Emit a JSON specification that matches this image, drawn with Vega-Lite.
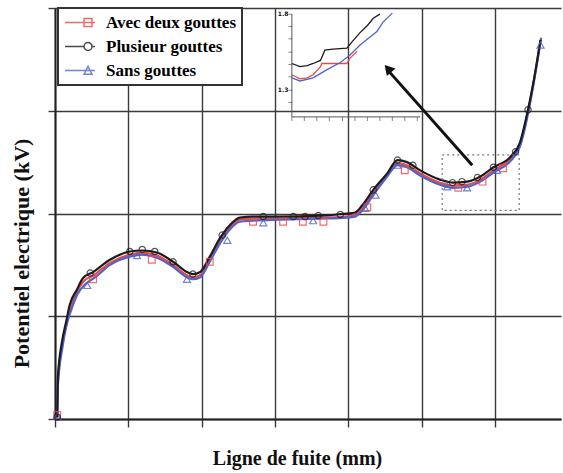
{
  "$schema": "https://vega.github.io/schema/vega-lite/v6.json",
  "width": 506,
  "height": 411,
  "autosize": {"type": "none"},
  "padding": {"left": 55, "top": 8, "right": 2, "bottom": 54},
  "background": "white",
  "view": {"stroke": null},
  "config": {
    "legend": {
      "orient": "none",
      "legendX": 3,
      "legendY": 0,
      "padding": 6,
      "strokeColor": "#333333",
      "fillColor": "white",
      "strokeWidth": 2,
      "labelFont": "Liberation Serif",
      "labelFontSize": 17,
      "labelFontWeight": "bold",
      "labelColor": "#000000",
      "labelOffset": 25,
      "symbolSize": 225,
      "symbolStrokeWidth": 1.5,
      "rowPadding": 6,
      "labelLimit": 300
    },
    "axis": {
      "labels": false,
      "grid": true,
      "gridColor": "#3a3a3a",
      "gridWidth": 1.4,
      "gridOpacity": 1,
      "tickColor": "#3a3a3a",
      "tickWidth": 1.4,
      "domainColor": "#222222",
      "domainWidth": 2,
      "titleFont": "Liberation Serif",
      "titleFontWeight": "bold",
      "titleColor": "#111111"
    }
  },
  "datasets": {
    "curves": [
      {"series": "Avec deux gouttes", "x": 0.03, "y": 0.02},
      {"series": "Avec deux gouttes", "x": 0.04, "y": 0.37},
      {"series": "Avec deux gouttes", "x": 0.10, "y": 0.73},
      {"series": "Avec deux gouttes", "x": 0.15, "y": 0.91},
      {"series": "Avec deux gouttes", "x": 0.21, "y": 1.08},
      {"series": "Avec deux gouttes", "x": 0.30, "y": 1.24},
      {"series": "Avec deux gouttes", "x": 0.39, "y": 1.34},
      {"series": "Avec deux gouttes", "x": 0.53, "y": 1.40},
      {"series": "Avec deux gouttes", "x": 0.75, "y": 1.52},
      {"series": "Avec deux gouttes", "x": 1.02, "y": 1.60},
      {"series": "Avec deux gouttes", "x": 1.19, "y": 1.62},
      {"series": "Avec deux gouttes", "x": 1.39, "y": 1.59},
      {"series": "Avec deux gouttes", "x": 1.61, "y": 1.50},
      {"series": "Avec deux gouttes", "x": 1.80, "y": 1.40},
      {"series": "Avec deux gouttes", "x": 1.88, "y": 1.38},
      {"series": "Avec deux gouttes", "x": 1.98, "y": 1.40},
      {"series": "Avec deux gouttes", "x": 2.11, "y": 1.55},
      {"series": "Avec deux gouttes", "x": 2.25, "y": 1.73},
      {"series": "Avec deux gouttes", "x": 2.39, "y": 1.87},
      {"series": "Avec deux gouttes", "x": 2.52, "y": 1.94},
      {"series": "Avec deux gouttes", "x": 2.70, "y": 1.95},
      {"series": "Avec deux gouttes", "x": 3.07, "y": 1.95},
      {"series": "Avec deux gouttes", "x": 3.62, "y": 1.96},
      {"series": "Avec deux gouttes", "x": 3.98, "y": 1.97},
      {"series": "Avec deux gouttes", "x": 4.09, "y": 1.99},
      {"series": "Avec deux gouttes", "x": 4.19, "y": 2.05},
      {"series": "Avec deux gouttes", "x": 4.34, "y": 2.20},
      {"series": "Avec deux gouttes", "x": 4.53, "y": 2.37},
      {"series": "Avec deux gouttes", "x": 4.67, "y": 2.49},
      {"series": "Avec deux gouttes", "x": 4.80, "y": 2.47},
      {"series": "Avec deux gouttes", "x": 4.98, "y": 2.39},
      {"series": "Avec deux gouttes", "x": 5.25, "y": 2.30},
      {"series": "Avec deux gouttes", "x": 5.43, "y": 2.27},
      {"series": "Avec deux gouttes", "x": 5.62, "y": 2.28},
      {"series": "Avec deux gouttes", "x": 5.80, "y": 2.33},
      {"series": "Avec deux gouttes", "x": 5.98, "y": 2.42},
      {"series": "Avec deux gouttes", "x": 6.21, "y": 2.53},
      {"series": "Avec deux gouttes", "x": 6.34, "y": 2.67},
      {"series": "Avec deux gouttes", "x": 6.45, "y": 2.99},
      {"series": "Avec deux gouttes", "x": 6.53, "y": 3.29},
      {"series": "Avec deux gouttes", "x": 6.62, "y": 3.68},
      {"series": "Sans gouttes", "x": 0.03, "y": 0.01},
      {"series": "Sans gouttes", "x": 0.04, "y": 0.33},
      {"series": "Sans gouttes", "x": 0.10, "y": 0.69},
      {"series": "Sans gouttes", "x": 0.15, "y": 0.89},
      {"series": "Sans gouttes", "x": 0.22, "y": 1.06},
      {"series": "Sans gouttes", "x": 0.31, "y": 1.22},
      {"series": "Sans gouttes", "x": 0.41, "y": 1.31},
      {"series": "Sans gouttes", "x": 0.55, "y": 1.38},
      {"series": "Sans gouttes", "x": 0.75, "y": 1.50},
      {"series": "Sans gouttes", "x": 1.02, "y": 1.58},
      {"series": "Sans gouttes", "x": 1.19, "y": 1.60},
      {"series": "Sans gouttes", "x": 1.39, "y": 1.57},
      {"series": "Sans gouttes", "x": 1.61, "y": 1.48},
      {"series": "Sans gouttes", "x": 1.80, "y": 1.38},
      {"series": "Sans gouttes", "x": 1.88, "y": 1.36},
      {"series": "Sans gouttes", "x": 1.98, "y": 1.38},
      {"series": "Sans gouttes", "x": 2.11, "y": 1.53},
      {"series": "Sans gouttes", "x": 2.25, "y": 1.71},
      {"series": "Sans gouttes", "x": 2.39, "y": 1.85},
      {"series": "Sans gouttes", "x": 2.52, "y": 1.92},
      {"series": "Sans gouttes", "x": 2.70, "y": 1.93},
      {"series": "Sans gouttes", "x": 3.07, "y": 1.94},
      {"series": "Sans gouttes", "x": 3.62, "y": 1.95},
      {"series": "Sans gouttes", "x": 3.98, "y": 1.96},
      {"series": "Sans gouttes", "x": 4.09, "y": 1.97},
      {"series": "Sans gouttes", "x": 4.19, "y": 2.03},
      {"series": "Sans gouttes", "x": 4.34, "y": 2.18},
      {"series": "Sans gouttes", "x": 4.53, "y": 2.36},
      {"series": "Sans gouttes", "x": 4.67, "y": 2.47},
      {"series": "Sans gouttes", "x": 4.80, "y": 2.45},
      {"series": "Sans gouttes", "x": 4.98, "y": 2.37},
      {"series": "Sans gouttes", "x": 5.25, "y": 2.28},
      {"series": "Sans gouttes", "x": 5.43, "y": 2.25},
      {"series": "Sans gouttes", "x": 5.62, "y": 2.26},
      {"series": "Sans gouttes", "x": 5.80, "y": 2.31},
      {"series": "Sans gouttes", "x": 5.98, "y": 2.40},
      {"series": "Sans gouttes", "x": 6.21, "y": 2.51},
      {"series": "Sans gouttes", "x": 6.34, "y": 2.65},
      {"series": "Sans gouttes", "x": 6.45, "y": 2.97},
      {"series": "Sans gouttes", "x": 6.53, "y": 3.28},
      {"series": "Sans gouttes", "x": 6.63, "y": 3.71},
      {"series": "Plusieur gouttes", "x": 0.03, "y": 0.02},
      {"series": "Plusieur gouttes", "x": 0.04, "y": 0.41},
      {"series": "Plusieur gouttes", "x": 0.10, "y": 0.77},
      {"series": "Plusieur gouttes", "x": 0.15, "y": 0.94},
      {"series": "Plusieur gouttes", "x": 0.20, "y": 1.11},
      {"series": "Plusieur gouttes", "x": 0.30, "y": 1.26},
      {"series": "Plusieur gouttes", "x": 0.38, "y": 1.37},
      {"series": "Plusieur gouttes", "x": 0.52, "y": 1.43},
      {"series": "Plusieur gouttes", "x": 0.75, "y": 1.55},
      {"series": "Plusieur gouttes", "x": 1.02, "y": 1.63},
      {"series": "Plusieur gouttes", "x": 1.19, "y": 1.64},
      {"series": "Plusieur gouttes", "x": 1.39, "y": 1.62},
      {"series": "Plusieur gouttes", "x": 1.61, "y": 1.53},
      {"series": "Plusieur gouttes", "x": 1.80, "y": 1.43},
      {"series": "Plusieur gouttes", "x": 1.88, "y": 1.41},
      {"series": "Plusieur gouttes", "x": 1.98, "y": 1.43},
      {"series": "Plusieur gouttes", "x": 2.11, "y": 1.58},
      {"series": "Plusieur gouttes", "x": 2.25, "y": 1.76},
      {"series": "Plusieur gouttes", "x": 2.39, "y": 1.89},
      {"series": "Plusieur gouttes", "x": 2.52, "y": 1.96},
      {"series": "Plusieur gouttes", "x": 2.70, "y": 1.97},
      {"series": "Plusieur gouttes", "x": 3.07, "y": 1.97},
      {"series": "Plusieur gouttes", "x": 3.62, "y": 1.98},
      {"series": "Plusieur gouttes", "x": 3.98, "y": 2.00},
      {"series": "Plusieur gouttes", "x": 4.09, "y": 2.01},
      {"series": "Plusieur gouttes", "x": 4.19, "y": 2.08},
      {"series": "Plusieur gouttes", "x": 4.34, "y": 2.23},
      {"series": "Plusieur gouttes", "x": 4.53, "y": 2.39},
      {"series": "Plusieur gouttes", "x": 4.67, "y": 2.52},
      {"series": "Plusieur gouttes", "x": 4.80, "y": 2.50},
      {"series": "Plusieur gouttes", "x": 4.98, "y": 2.42},
      {"series": "Plusieur gouttes", "x": 5.25, "y": 2.33},
      {"series": "Plusieur gouttes", "x": 5.43, "y": 2.30},
      {"series": "Plusieur gouttes", "x": 5.62, "y": 2.31},
      {"series": "Plusieur gouttes", "x": 5.80, "y": 2.36},
      {"series": "Plusieur gouttes", "x": 5.98, "y": 2.45},
      {"series": "Plusieur gouttes", "x": 6.21, "y": 2.55},
      {"series": "Plusieur gouttes", "x": 6.34, "y": 2.69},
      {"series": "Plusieur gouttes", "x": 6.45, "y": 3.01},
      {"series": "Plusieur gouttes", "x": 6.53, "y": 3.30},
      {"series": "Plusieur gouttes", "x": 6.62, "y": 3.69}
    ],
    "markers": [
      {"series": "Plusieur gouttes", "x": 0.03, "y": 0.02},
      {"series": "Plusieur gouttes", "x": 0.48, "y": 1.42},
      {"series": "Plusieur gouttes", "x": 1.02, "y": 1.63},
      {"series": "Plusieur gouttes", "x": 1.19, "y": 1.65},
      {"series": "Plusieur gouttes", "x": 1.36, "y": 1.63},
      {"series": "Plusieur gouttes", "x": 1.61, "y": 1.53},
      {"series": "Plusieur gouttes", "x": 1.88, "y": 1.41},
      {"series": "Plusieur gouttes", "x": 2.28, "y": 1.79},
      {"series": "Plusieur gouttes", "x": 2.84, "y": 1.97},
      {"series": "Plusieur gouttes", "x": 3.25, "y": 1.97},
      {"series": "Plusieur gouttes", "x": 3.41, "y": 1.97},
      {"series": "Plusieur gouttes", "x": 3.59, "y": 1.98},
      {"series": "Plusieur gouttes", "x": 3.89, "y": 1.99},
      {"series": "Plusieur gouttes", "x": 4.34, "y": 2.23},
      {"series": "Plusieur gouttes", "x": 4.67, "y": 2.52},
      {"series": "Plusieur gouttes", "x": 4.88, "y": 2.47},
      {"series": "Plusieur gouttes", "x": 5.42, "y": 2.30},
      {"series": "Plusieur gouttes", "x": 5.55, "y": 2.31},
      {"series": "Plusieur gouttes", "x": 5.76, "y": 2.35},
      {"series": "Plusieur gouttes", "x": 5.98, "y": 2.45},
      {"series": "Plusieur gouttes", "x": 6.28, "y": 2.60},
      {"series": "Plusieur gouttes", "x": 6.45, "y": 3.01},
      {"series": "Avec deux gouttes", "x": 0.03, "y": 0.04},
      {"series": "Avec deux gouttes", "x": 0.52, "y": 1.36},
      {"series": "Avec deux gouttes", "x": 1.32, "y": 1.55},
      {"series": "Avec deux gouttes", "x": 2.11, "y": 1.53},
      {"series": "Avec deux gouttes", "x": 2.70, "y": 1.92},
      {"series": "Avec deux gouttes", "x": 3.11, "y": 1.92},
      {"series": "Avec deux gouttes", "x": 3.38, "y": 1.92},
      {"series": "Avec deux gouttes", "x": 3.66, "y": 1.92},
      {"series": "Avec deux gouttes", "x": 4.26, "y": 2.06},
      {"series": "Avec deux gouttes", "x": 4.77, "y": 2.42},
      {"series": "Avec deux gouttes", "x": 5.50, "y": 2.25},
      {"series": "Avec deux gouttes", "x": 5.83, "y": 2.31},
      {"series": "Avec deux gouttes", "x": 6.11, "y": 2.44},
      {"series": "Sans gouttes", "x": 0.03, "y": 0.03},
      {"series": "Sans gouttes", "x": 0.44, "y": 1.30},
      {"series": "Sans gouttes", "x": 1.12, "y": 1.59},
      {"series": "Sans gouttes", "x": 1.80, "y": 1.36},
      {"series": "Sans gouttes", "x": 2.35, "y": 1.74},
      {"series": "Sans gouttes", "x": 2.84, "y": 1.91},
      {"series": "Sans gouttes", "x": 3.52, "y": 1.93},
      {"series": "Sans gouttes", "x": 4.23, "y": 2.05},
      {"series": "Sans gouttes", "x": 4.37, "y": 2.18},
      {"series": "Sans gouttes", "x": 4.67, "y": 2.47},
      {"series": "Sans gouttes", "x": 5.35, "y": 2.26},
      {"series": "Sans gouttes", "x": 5.62, "y": 2.25},
      {"series": "Sans gouttes", "x": 6.03, "y": 2.42},
      {"series": "Sans gouttes", "x": 6.62, "y": 3.64}
    ],
    "inset": [
      {"series": "Avec deux gouttes", "x": 3.23, "y": 3.35},
      {"series": "Avec deux gouttes", "x": 3.34, "y": 3.31},
      {"series": "Avec deux gouttes", "x": 3.44, "y": 3.32},
      {"series": "Avec deux gouttes", "x": 3.52, "y": 3.35},
      {"series": "Avec deux gouttes", "x": 3.62, "y": 3.43},
      {"series": "Avec deux gouttes", "x": 3.64, "y": 3.46},
      {"series": "Avec deux gouttes", "x": 3.75, "y": 3.46},
      {"series": "Avec deux gouttes", "x": 3.98, "y": 3.46},
      {"series": "Avec deux gouttes", "x": 4.02, "y": 3.51},
      {"series": "Avec deux gouttes", "x": 4.12, "y": 3.58},
      {"series": "Sans gouttes", "x": 3.23, "y": 3.32},
      {"series": "Sans gouttes", "x": 3.34, "y": 3.29},
      {"series": "Sans gouttes", "x": 3.52, "y": 3.32},
      {"series": "Sans gouttes", "x": 3.71, "y": 3.40},
      {"series": "Sans gouttes", "x": 3.89, "y": 3.47},
      {"series": "Sans gouttes", "x": 4.02, "y": 3.54},
      {"series": "Sans gouttes", "x": 4.16, "y": 3.64},
      {"series": "Sans gouttes", "x": 4.30, "y": 3.72},
      {"series": "Sans gouttes", "x": 4.39, "y": 3.77},
      {"series": "Sans gouttes", "x": 4.47, "y": 3.86},
      {"series": "Sans gouttes", "x": 4.60, "y": 3.95},
      {"series": "Plusieur gouttes", "x": 3.23, "y": 3.46},
      {"series": "Plusieur gouttes", "x": 3.34, "y": 3.43},
      {"series": "Plusieur gouttes", "x": 3.44, "y": 3.44},
      {"series": "Plusieur gouttes", "x": 3.52, "y": 3.46},
      {"series": "Plusieur gouttes", "x": 3.62, "y": 3.49},
      {"series": "Plusieur gouttes", "x": 3.68, "y": 3.59},
      {"series": "Plusieur gouttes", "x": 3.79, "y": 3.60},
      {"series": "Plusieur gouttes", "x": 3.98, "y": 3.61},
      {"series": "Plusieur gouttes", "x": 4.05, "y": 3.67},
      {"series": "Plusieur gouttes", "x": 4.16, "y": 3.76},
      {"series": "Plusieur gouttes", "x": 4.26, "y": 3.83},
      {"series": "Plusieur gouttes", "x": 4.34, "y": 3.90},
      {"series": "Plusieur gouttes", "x": 4.43, "y": 3.94}
    ],
    "insetAxes": [
      {"x": 3.23, "y": 2.94, "x2": 3.23, "y2": 3.94},
      {"x": 3.23, "y": 2.94, "x2": 4.98, "y2": 2.94}
    ],
    "insetTicksY": [
      {"y": 3.94}, {"y": 3.82}, {"y": 3.70}, {"y": 3.57},
      {"y": 3.45}, {"y": 3.33}, {"y": 3.20}, {"y": 3.08}
    ],
    "insetTicksX": [
      {"x": 3.23}, {"x": 3.40}, {"x": 3.57}, {"x": 3.74}, {"x": 3.92}, {"x": 4.09},
      {"x": 4.26}, {"x": 4.43}, {"x": 4.60}, {"x": 4.77}, {"x": 4.94}
    ],
    "insetLabels": [
      {"x": 3.11, "y": 3.94, "label": "1.8"},
      {"x": 3.11, "y": 3.20, "label": "1.3"}
    ],
    "zoomBox": [
      {"x": 5.28, "x2": 6.33, "y": 2.03, "y2": 2.57}
    ],
    "arrow": [
      {"x": 5.69, "y": 2.47, "x2": 4.52, "y2": 3.41}
    ],
    "arrowHead": [
      {"x": 4.54, "y": 3.41}
    ]
  },
  "layer": [
    {
      "data": {"name": "curves"},
      "mark": {"type": "line", "interpolate": "monotone", "strokeWidth": 2.2},
      "encoding": {
        "x": {
          "field": "x", "type": "quantitative",
          "scale": {"domain": [0, 6.9], "nice": false, "zero": false},
          "axis": {"values": [0, 1, 2, 3, 4, 5, 6], "tickSize": 8, "title": "Ligne de fuite (mm)", "titleFontSize": 20, "titleX": 242, "titleY": 39, "titleAlign": "center", "titleBaseline": "middle"}
        },
        "y": {
          "field": "y", "type": "quantitative",
          "scale": {"domain": [0, 4], "nice": false, "zero": false},
          "axis": {"values": [0, 1, 2, 3, 4], "tickSize": 7, "title": "Potentiel electrique (kV)", "titleFontSize": 22, "titleX": -34, "titleY": 245, "titleAngle": 270, "titleAlign": "center", "titleBaseline": "middle"}
        },
        "color": {
          "field": "series", "type": "nominal",
          "scale": {"domain": ["Avec deux gouttes", "Plusieur gouttes", "Sans gouttes"], "range": ["#f04848", "#1c1c1c", "#5064c8"]},
          "legend": {"title": null}
        }
      }
    },
    {
      "data": {"name": "markers"},
      "transform": [{"filter": "datum.series === 'Avec deux gouttes'"}],
      "mark": {"type": "point", "shape": "square", "filled": false, "size": 45, "strokeWidth": 1.2, "opacity": 0.8},
      "encoding": {
        "x": {"field": "x", "type": "quantitative"},
        "y": {"field": "y", "type": "quantitative"},
        "color": {"field": "series", "type": "nominal", "legend": {"title": null}}
      }
    },
    {
      "data": {"name": "markers"},
      "transform": [{"filter": "datum.series === 'Sans gouttes'"}],
      "mark": {"type": "point", "shape": "triangle-up", "filled": false, "size": 50, "strokeWidth": 1.2, "opacity": 0.8},
      "encoding": {
        "x": {"field": "x", "type": "quantitative"},
        "y": {"field": "y", "type": "quantitative"},
        "color": {"field": "series", "type": "nominal", "legend": {"title": null}}
      }
    },
    {
      "data": {"name": "markers"},
      "transform": [{"filter": "datum.series === 'Plusieur gouttes'"}],
      "mark": {"type": "point", "shape": "circle", "filled": false, "size": 40, "strokeWidth": 1.2, "opacity": 0.75},
      "encoding": {
        "x": {"field": "x", "type": "quantitative"},
        "y": {"field": "y", "type": "quantitative"},
        "color": {"field": "series", "type": "nominal", "legend": {"title": null}}
      }
    },
    {
      "data": {"name": "markers"},
      "transform": [{"filter": "false"}],
      "mark": {"type": "point", "filled": false, "strokeWidth": 1.5},
      "encoding": {
        "x": {"field": "x", "type": "quantitative"},
        "y": {"field": "y", "type": "quantitative"},
        "color": {"field": "series", "type": "nominal", "legend": {"title": null}},
        "shape": {
          "field": "series", "type": "nominal",
          "scale": {
            "domain": ["Avec deux gouttes", "Plusieur gouttes", "Sans gouttes"],
            "range": [
              "M-1,0H3M1.54,-0.53H2.6V0.53H1.54Z",
              "M-1,0H1.54M2.6,0H3M1.54,0A0.53,0.53 0 1 0 2.6,0A0.53,0.53 0 1 0 1.54,0Z",
              "M-1,0H3M1.54,0.5L2.07,-0.55L2.6,0.5Z"
            ]
          },
          "legend": {"title": null}
        }
      }
    },
    {
      "data": {"name": "inset"},
      "mark": {"type": "line", "strokeWidth": 1.3},
      "encoding": {
        "x": {"field": "x", "type": "quantitative"},
        "y": {"field": "y", "type": "quantitative"},
        "color": {"field": "series", "type": "nominal", "legend": {"title": null}}
      }
    },
    {
      "data": {"name": "insetAxes"},
      "mark": {"type": "rule", "color": "#555555", "strokeWidth": 1},
      "encoding": {
        "x": {"field": "x", "type": "quantitative"},
        "y": {"field": "y", "type": "quantitative"},
        "x2": {"field": "x2"},
        "y2": {"field": "y2"}
      }
    },
    {
      "data": {"name": "insetTicksY"},
      "mark": {"type": "tick", "orient": "horizontal", "size": 4, "thickness": 1, "color": "#555555"},
      "encoding": {
        "y": {"field": "y", "type": "quantitative"},
        "x": {"datum": 3.21, "type": "quantitative"}
      }
    },
    {
      "data": {"name": "insetTicksX"},
      "mark": {"type": "tick", "orient": "vertical", "size": 4, "thickness": 1, "color": "#555555"},
      "encoding": {
        "x": {"field": "x", "type": "quantitative"},
        "y": {"datum": 2.92, "type": "quantitative"}
      }
    },
    {
      "data": {"name": "insetLabels"},
      "mark": {"type": "text", "fontSize": 6, "fontWeight": "bold", "font": "DejaVu Sans", "color": "#111111"},
      "encoding": {
        "x": {"field": "x", "type": "quantitative"},
        "y": {"field": "y", "type": "quantitative"},
        "text": {"field": "label"}
      }
    },
    {
      "data": {"name": "zoomBox"},
      "mark": {"type": "rect", "fill": null, "fillOpacity": 0, "stroke": "#777777", "strokeWidth": 1.2, "strokeDash": [2, 3]},
      "encoding": {
        "x": {"field": "x", "type": "quantitative"},
        "x2": {"field": "x2"},
        "y": {"field": "y", "type": "quantitative"},
        "y2": {"field": "y2"}
      }
    },
    {
      "data": {"name": "arrow"},
      "mark": {"type": "rule", "color": "#111111", "strokeWidth": 3},
      "encoding": {
        "x": {"field": "x", "type": "quantitative"},
        "y": {"field": "y", "type": "quantitative"},
        "x2": {"field": "x2"},
        "y2": {"field": "y2"}
      }
    },
    {
      "data": {"name": "arrowHead"},
      "mark": {"type": "point", "shape": "triangle-up", "filled": true, "color": "#111111", "size": 130, "angle": 319, "opacity": 1},
      "encoding": {
        "x": {"field": "x", "type": "quantitative"},
        "y": {"field": "y", "type": "quantitative"}
      }
    }
  ]
}
